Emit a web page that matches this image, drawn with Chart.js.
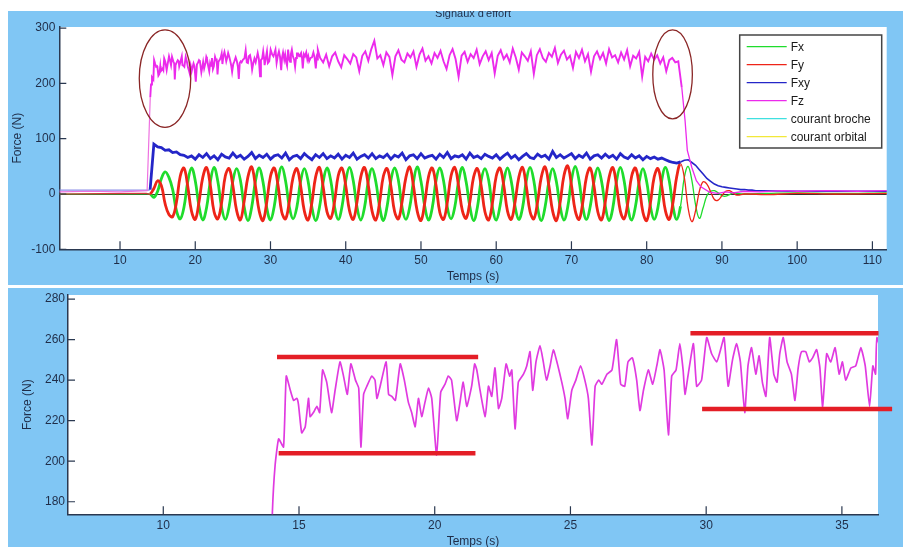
<!DOCTYPE html>
<html>
<head>
<meta charset="utf-8">
<script src="https://cdn.jsdelivr.net/npm/chart.js@4.4.1/dist/chart.umd.min.js"></script>
<style>
  body { margin: 0; background: #fff; width: 903px; height: 547px; overflow: hidden; position: relative; }
  .panel { position: absolute; left: 8px; width: 895px; background: #80c6f4; }
  #topPanel { top: 11px; height: 274px; }
  #bottomPanel { top: 288px; height: 259px; }
</style>
</head>
<body>
<div class="panel" id="topPanel"><canvas id="effortChart"></canvas></div>
<div class="panel" id="bottomPanel"><canvas id="zoomChart"></canvas></div>
<script>
// ---- données ----
// Fx, Fy, Fxy : un point toutes les 0.5 s à partir de 14 s
const gridStart = 14.0;
const gridStep = 0.5;

const fxValues = [
  0, -6, 5, 28, 40, 30,
  8, -30, -45, -24, 22, 47,
  24, -22, -47, -25, 22, 48,
  23, -24, -46, -23, 24, 46,
  25, -23, -48, -24, 23, 47,
  22, -25, -47, -22, 25, 49,
  24, -23, -45, -24, 23, 46,
  23, -24, -48, -25, 22, 47,
  25, -22, -46, -23, 24, 48,
  24, -24, -47, -24, 23, 46,
  22, -23, -48, -22, 25, 47,
  25, -25, -46, -24, 22, 49,
  23, -22, -47, -25, 24, 47,
  24, -24, -45, -23, 23, 48,
  22, -23, -48, -24, 25, 46,
  25, -24, -47, -22, 23, 47,
  23, -22, -46, -25, 24, 48,
  24, -25, -48, -23, 22, 46,
  22, -23, -47, -24, 25, 50,
  25, -24, -46, -22, 23, 47,
  23, -22, -48, -25, 24, 48,
  24, -25, -47, -23, 22, 46,
  22, -23, -46, -24, 25, 48,
  24, -23, -46, -22, 30, 50, 25, -20, -44, -25, -3, 5, 6, 2, -3, -4, -1, 2, 1
];

const fyValues = [
  0, 10, 24, 15, -18, -37,
  -41, -15, 32, 47, 14, -31,
  -46, -14, 30, 48, 16, -32,
  -45, -16, 33, 46, 15, -30,
  -47, -13, 31, 49, 14, -31,
  -48, -15, 32, 47, 16, -33,
  -45, -14, 30, 46, 15, -31,
  -47, -16, 31, 48, 13, -32,
  -44, -15, 33, 47, 15, -30,
  -46, -14, 31, 48, 16, -31,
  -47, -15, 32, 46, 14, -32,
  -45, -13, 30, 49, 15, -31,
  -48, -16, 31, 47, 16, -33,
  -46, -15, 33, 48, 14, -30,
  -44, -14, 31, 46, 15, -32,
  -47, -16, 32, 47, 16, -31,
  -46, -15, 30, 48, 14, -32,
  -45, -14, 31, 49, 15, -31,
  -48, -15, 33, 51, 16, -30,
  -46, -16, 31, 47, 14, -32,
  -47, -14, 30, 48, 15, -31,
  -45, -15, 32, 47, 16, -33,
  -48, -16, 31, 46, 14, -31,
  -46, -15, 32, 55, 30, -25, -50, -30, 5, 22, 18, 4, -10, -11, -3, 5, 6, 2, -2
];

const fxyValues = [
  8, 90, 85, 84, 79, 80, 75, 76, 71, 70, 66, 69,
  63, 71, 66, 73, 64, 69, 62, 72, 67, 65,
  74, 66, 70, 63, 68, 75, 64, 70, 66, 72,
  63, 69, 71, 65, 74, 62, 68, 70, 64, 73,
  67, 62, 71, 66, 73, 64, 69, 65, 72, 63,
  70, 66, 74, 63, 68, 71, 65, 73, 64, 69,
  66, 72, 63, 70, 67, 74, 62, 69, 71, 64,
  73, 65, 68, 70, 63, 72, 66, 75, 64, 69,
  67, 71, 63, 74, 66, 69, 64, 72, 68, 65,
  71, 63, 69, 74, 65, 70, 62, 68, 73, 66,
  64, 72, 67, 70, 63, 77, 66, 71, 65, 69,
  73, 64, 70, 66, 74, 63, 69, 71, 65, 72,
  66, 70, 63, 73, 67, 64, 71, 65, 69, 62,
  68, 64, 67, 63, 65,
  62, 59, 57, 56, 58, 61, 62, 57, 52, 44, 36, 28, 23, 18, 15, 13,
  12, 11, 10, 9, 8, 8, 7, 7, 6, 6
];

// repos avant et après l'usinage (t, valeur)
const fxBefore = [[1.93, 0], [13.5, 0]];
const fxAfter = [[93, 0], [96, 1], [100, 2], [105, 1], [112, 2]];
const fyBefore = [[1.93, 0], [13.5, 1]];
const fyAfter = [[93, 0], [96, -1], [100, 1], [105, 0], [112, 1]];
const fxyBefore = [[1.93, 7], [13.8, 7]];
const fxyAfter = [[100, 5], [105, 5], [112, 5]];

const fzBefore = [[1.93, 4], [6, 5], [10, 4], [13.6, 6]];
const fzDetail = [
  [14.02, 175], [14.12, 198], [14.25, 211], [14.43, 207], [14.53, 242], [14.68, 235], [14.8, 230],
  [14.92, 231], [14.98, 228], [15.1, 214], [15.23, 217], [15.35, 231], [15.41, 222], [15.53, 224],
  [15.66, 227], [15.76, 224], [15.87, 245], [16.02, 239], [16.2, 224], [16.33, 235], [16.51, 249],
  [16.64, 242], [16.78, 233], [16.91, 248], [17.08, 240], [17.2, 236], [17.28, 207], [17.38, 233],
  [17.5, 237], [17.68, 242], [17.8, 240], [17.87, 231], [17.99, 237], [18.21, 249], [18.3, 233],
  [18.42, 232], [18.55, 230], [18.73, 248], [18.88, 240], [19.03, 229], [19.15, 224], [19.28, 217],
  [19.4, 231], [19.52, 222], [19.64, 229], [19.77, 236], [19.89, 231], [20.07, 203], [20.22, 234],
  [20.38, 238], [20.5, 242], [20.62, 240], [20.81, 220], [20.93, 229], [21.05, 239], [21.18, 227],
  [21.36, 237], [21.47, 248], [21.55, 245], [21.67, 235], [21.86, 222], [21.98, 237], [22.1, 232],
  [22.22, 246], [22.35, 226], [22.47, 231], [22.63, 248], [22.76, 242], [22.84, 245], [22.96, 216],
  [23.08, 239], [23.27, 243], [23.39, 247], [23.51, 254], [23.61, 235], [23.73, 249], [23.88, 257],
  [24.0, 249], [24.12, 240], [24.25, 247], [24.37, 255], [24.52, 248], [24.68, 239], [24.8, 231],
  [24.9, 221], [25.05, 235], [25.2, 240], [25.37, 247], [25.53, 240], [25.66, 231], [25.79, 208],
  [25.91, 237], [26.04, 240], [26.16, 238], [26.35, 243], [26.53, 245], [26.7, 260], [26.85, 238],
  [27.0, 237], [27.12, 249], [27.28, 251], [27.44, 240], [27.56, 225], [27.69, 235], [27.87, 245],
  [28.03, 238], [28.18, 247], [28.3, 255], [28.45, 245], [28.61, 213], [28.73, 242], [28.89, 245],
  [29.03, 258], [29.15, 245], [29.22, 233], [29.34, 243], [29.53, 258], [29.65, 237], [29.83, 240],
  [30.02, 261], [30.2, 253], [30.39, 249], [30.51, 254], [30.66, 261], [30.81, 237], [30.97, 250],
  [31.12, 258], [31.26, 249], [31.42, 224], [31.54, 247], [31.67, 256], [31.83, 243], [31.95, 252],
  [32.07, 239], [32.2, 232], [32.34, 261], [32.49, 243], [32.61, 239], [32.71, 253], [32.84, 261],
  [32.98, 249], [33.14, 243], [33.27, 230], [33.39, 246], [33.51, 254], [33.67, 254], [33.8, 249],
  [33.92, 251], [34.07, 255], [34.19, 246], [34.29, 227], [34.44, 253], [34.59, 249], [34.75, 256],
  [34.9, 243], [35.02, 249], [35.14, 240], [35.33, 246], [35.51, 247], [35.7, 256], [35.86, 247],
  [36.02, 227], [36.14, 247], [36.24, 243], [36.29, 261]
];

// Fz : reste du palier, un point toutes les 0.4 s
const fzCoarseStart = 36.6;
const fzCoarseStep = 0.4;
const fzCoarseValues = [
  246, 238, 252, 231, 249, 256, 240, 229, 251, 244,
  236, 253, 247, 222, 250, 258, 241, 262, 277, 245,
  251, 233, 256, 248, 215, 249, 260, 243, 238, 254,
  247, 258, 230, 252, 263, 241, 249, 236, 255, 246,
  259, 240, 226, 251, 262, 244, 212, 250, 257, 239,
  253, 246, 261, 235, 249, 258, 242, 255, 218, 250,
  260, 244, 252, 238, 263, 247, 225, 256, 249, 241,
  258, 217, 251, 262, 246, 239, 255, 248, 264, 237,
  252, 259, 243, 250, 228, 257, 246, 261, 240, 253,
  221, 249, 258, 244, 255, 236, 262, 247, 251, 238,
  256, 243, 260, 231, 250, 245, 257, 212, 248, 240,
  254, 243, 251, 236, 247, 222, 242, 246, 238, 240
];
const fzAfter = [
  [84.66, 193], [85.1, 133], [85.4, 79], [86.0, 48], [86.6, 24], [87.2, 13], [88.4, 3],
  [89.5, 1], [90.5, 4], [91.5, 2], [93, 5], [95, 4], [98, 6], [100, 5], [104, 6], [108, 5], [112, 6]
];

// paliers tracés sur le zoom : [début, fin] et niveau (N)
const bandTimes = [[14.19, 21.6], [14.25, 21.5], [29.42, 36.35], [29.85, 36.85]];
const bandLevels = [251.4, 203.9, 263.1, 225.7];

// zones entourées : centre (s, N) et demi-axes (s, N)
const circledTimes = [15.98, 83.44];
const circledForces = [208.7, 216.3];
const circledHalfTimes = [3.42, 2.63];
const circledHalfForces = [88.1, 80.5];

// axes
const topXTicks = [10, 20, 30, 40, 50, 60, 70, 80, 90, 100, 110];
const topYTicks = [-100, 0, 100, 200, 300];
const zoomXTicks = [10, 15, 20, 25, 30, 35];
const zoomYTicks = [180, 200, 220, 240, 260, 280];

// ---- construction des séries ----
function pairPoints(pairs) {
    return pairs.map(p => ({ x: p[0], y: p[1] }));
}
function gridPoints(start, step, values) {
    return values.map((v, i) => ({ x: +(start + i * step).toFixed(2), y: v }));
}

const fxPoints = pairPoints(fxBefore).concat(gridPoints(gridStart, gridStep, fxValues), pairPoints(fxAfter));
const fyPoints = pairPoints(fyBefore).concat(gridPoints(gridStart, gridStep, fyValues), pairPoints(fyAfter));
const fxyPoints = pairPoints(fxyBefore).concat(gridPoints(gridStart, gridStep, fxyValues), pairPoints(fxyAfter));
const fzPoints = pairPoints(fzBefore).concat(pairPoints(fzDetail), gridPoints(fzCoarseStart, fzCoarseStep, fzCoarseValues), pairPoints(fzAfter));

const inkColor = '#1f2d48';
const axisColor = '#2a3850';
const fontFamily = '"Liberation Sans", Arial, sans-serif';
Chart.defaults.font.family = fontFamily;
Chart.defaults.font.size = 12;
Chart.defaults.color = inkColor;

// fond blanc de la zone de tracé
const plotBackground = {
    id: 'plotBackground',
    beforeDraw(chart) {
        const a = chart.chartArea;
        chart.ctx.save();
        chart.ctx.fillStyle = '#ffffff';
        chart.ctx.fillRect(a.left, a.top, a.right - a.left, a.bottom - a.top);
        chart.ctx.restore();
    }
};

// graduations vers l'intérieur, façon Matlab
const innerTicks = {
    id: 'innerTicks',
    afterDatasetsDraw(chart) {
        const ctx = chart.ctx, a = chart.chartArea;
        ctx.save();
        ctx.strokeStyle = axisColor;
        ctx.lineWidth = 1.2;
        ctx.beginPath();
        chart.scales.x.ticks.forEach(t => {
            const px = chart.scales.x.getPixelForValue(t.value);
            ctx.moveTo(px, a.bottom);
            ctx.lineTo(px, a.bottom - 8);
        });
        chart.scales.y.ticks.forEach(t => {
            const py = chart.scales.y.getPixelForValue(t.value);
            ctx.moveTo(a.left, py);
            ctx.lineTo(a.left + 7, py);
        });
        ctx.stroke();
        ctx.restore();
    }
};

const clippedTitle = {
    id: 'clippedTitle',
    afterDraw(chart) {
        const ctx = chart.ctx, a = chart.chartArea;
        ctx.save();
        ctx.font = '11px ' + fontFamily;
        ctx.fillStyle = inkColor;
        ctx.textAlign = 'center';
        ctx.textBaseline = 'alphabetic';
        ctx.fillText("Signaux d'effort", (a.left + a.right) / 2, 6);
        ctx.restore();
    }
};

const circledZones = {
    id: 'circledZones',
    afterDatasetsDraw(chart) {
        const ctx = chart.ctx, xs = chart.scales.x, ys = chart.scales.y;
        ctx.save();
        ctx.strokeStyle = '#8a2626';
        ctx.lineWidth = 1.3;
        circledTimes.forEach((t, i) => {
            const cx = xs.getPixelForValue(t);
            const cy = ys.getPixelForValue(circledForces[i]);
            const rx = Math.abs(xs.getPixelForValue(t + circledHalfTimes[i]) - cx);
            const ry = Math.abs(ys.getPixelForValue(circledForces[i] + circledHalfForces[i]) - cy);
            ctx.beginPath();
            ctx.ellipse(cx, cy, rx, ry, 0, 0, Math.PI * 2);
            ctx.stroke();
        });
        ctx.restore();
    }
};

const boxedLegend = {
    id: 'boxedLegend',
    afterDraw(chart) {
        const ctx = chart.ctx, a = chart.chartArea;
        const w = 142, h = 113;
        const x0 = a.right - 5 - w, y0 = a.top + 8;
        ctx.save();
        ctx.fillStyle = '#ffffff';
        ctx.fillRect(x0, y0, w, h);
        ctx.strokeStyle = '#454545';
        ctx.lineWidth = 1.5;
        ctx.strokeRect(x0, y0, w, h);
        ctx.font = '12px ' + fontFamily;
        ctx.textBaseline = 'middle';
        ctx.textAlign = 'left';
        chart.data.datasets.forEach((ds, i) => {
            const y = y0 + 11.7 + i * 18;
            ctx.strokeStyle = ds.borderColor;
            ctx.lineWidth = 1.3;
            ctx.beginPath();
            ctx.moveTo(x0 + 7, y);
            ctx.lineTo(x0 + 47, y);
            ctx.stroke();
            ctx.fillStyle = '#1a1a1a';
            ctx.fillText(ds.label, x0 + 51, y + 0.5);
        });
        ctx.restore();
    }
};

function fixedTicks(list) {
    return scale => { scale.ticks = list.map(v => ({ value: v })); };
}
function noPadding(scale) {
    scale.paddingTop = 0;
    scale.paddingBottom = 0;
    scale.paddingLeft = 0;
    scale.paddingRight = 0;
}

// trait fin au repos (avant 14 s et après 84.5 s), épais pendant l'usinage
function phaseStyle(thick, thin, idleColor) {
    return {
        borderWidth: c => (c.p0.parsed.x < 13.9 ? 1.2 : (c.p0.parsed.x >= 84.5 ? thin : thick)),
        borderColor: c => (idleColor && c.p0.parsed.x < 13.9 ? idleColor : undefined)
    };
}

// ---- graphique du haut : signaux d'effort ----
new Chart(document.getElementById('effortChart'), {
    type: 'line',
    data: {
        datasets: [
            { label: 'Fx', data: fxPoints, borderColor: '#1fdc2c', borderWidth: 2.8, tension: 0.4, order: 4, segment: phaseStyle(2.8, 1.3) },
            { label: 'Fy', data: fyPoints, borderColor: '#ee2418', borderWidth: 2.8, tension: 0.4, order: 3, segment: phaseStyle(2.8, 1.3, '#d23a3a') },
            { label: 'Fxy', data: fxyPoints, borderColor: '#2426c8', borderWidth: 2.8, tension: 0, order: 2, segment: phaseStyle(2.8, 1.6, '#8c8ee8') },
            { label: 'Fz', data: fzPoints, borderColor: '#ec2aec', borderWidth: 1.9, tension: 0, order: 1, segment: phaseStyle(1.9, 1.3, '#ee70e0') },
            { label: 'courant broche', data: [], borderColor: '#3fe0e0', borderWidth: 1 },
            { label: 'courant orbital', data: [], borderColor: '#f2e83a', borderWidth: 1 }
        ]
    },
    options: {
        responsive: true,
        maintainAspectRatio: false,
        animation: false,
        events: [],
        parsing: false,
        elements: { point: { radius: 0 } },
        layout: { padding: { top: 16, right: 16.3, bottom: 0, left: 0 } },
        plugins: { legend: { display: false }, tooltip: { enabled: false } },
        scales: {
            x: {
                type: 'linear',
                min: 1.93,
                max: 111.9,
                afterBuildTicks: fixedTicks(topXTicks),
                afterFit: s => { s.height = 35.7; noPadding(s); },
                grid: { display: false, drawTicks: false },
                border: { display: true, color: axisColor, width: 1.5 },
                ticks: { padding: 4.5, maxRotation: 0, autoSkip: false, color: inkColor },
                title: { display: true, text: 'Temps (s)', color: inkColor, font: { size: 12 }, padding: { top: 0, bottom: 1 } }
            },
            y: {
                type: 'linear',
                min: -100,
                max: 302,
                afterBuildTicks: fixedTicks(topYTicks),
                afterFit: s => { s.width = 51.3; noPadding(s); },
                grid: {
                    display: true,
                    drawTicks: false,
                    color: c => (c.tick && c.tick.value === 0 ? '#333333' : 'rgba(0,0,0,0)'),
                    lineWidth: 1
                },
                border: { display: true, color: axisColor, width: 1.5 },
                ticks: { padding: 4, color: inkColor },
                title: { display: true, text: 'Force (N)', color: inkColor, font: { size: 12 }, padding: { top: 2, bottom: 0 } }
            }
        }
    },
    plugins: [plotBackground, innerTicks, circledZones, boxedLegend, clippedTitle]
});

// ---- graphique du bas : zoom sur Fz ----
const bandSets = bandTimes.map((span, i) => ({
    label: 'palier ' + (i + 1),
    data: [{ x: span[0], y: bandLevels[i] }, { x: span[1], y: bandLevels[i] }],
    borderColor: '#e41e26',
    borderWidth: 4.5,
    tension: 0,
    clip: false,
    order: 0
}));

new Chart(document.getElementById('zoomChart'), {
    type: 'line',
    data: {
        datasets: [
            { label: 'Fz', data: fzPoints, borderColor: '#e03ae0', borderWidth: 1.7, tension: 0.15, order: 1 }
        ].concat(bandSets)
    },
    options: {
        responsive: true,
        maintainAspectRatio: false,
        animation: false,
        events: [],
        parsing: false,
        elements: { point: { radius: 0 } },
        layout: { padding: { top: 7, right: 25, bottom: 0, left: 0 } },
        plugins: { legend: { display: false }, tooltip: { enabled: false } },
        scales: {
            x: {
                type: 'linear',
                min: 6.49,
                max: 36.33,
                afterBuildTicks: fixedTicks(zoomXTicks),
                afterFit: s => { s.height = 32.7; noPadding(s); },
                grid: { display: false, drawTicks: false },
                border: { display: true, color: axisColor, width: 1.5 },
                ticks: { padding: 4.2, maxRotation: 0, autoSkip: false, color: inkColor },
                title: { display: true, text: 'Temps (s)', color: inkColor, font: { size: 12, lineHeight: 0.88 }, padding: { top: 0, bottom: 0 } }
            },
            y: {
                type: 'linear',
                min: 173.8,
                max: 282,
                afterBuildTicks: fixedTicks(zoomYTicks),
                afterFit: s => { s.width = 60; noPadding(s); },
                grid: { display: false, drawTicks: false },
                border: { display: true, color: axisColor, width: 1.5 },
                ticks: { padding: 3, color: inkColor },
                title: { display: true, text: 'Force (N)', color: inkColor, font: { size: 12 }, padding: { top: 12.8, bottom: 0 } }
            }
        }
    },
    plugins: [plotBackground, innerTicks]
});
</script>
</body>
</html>
